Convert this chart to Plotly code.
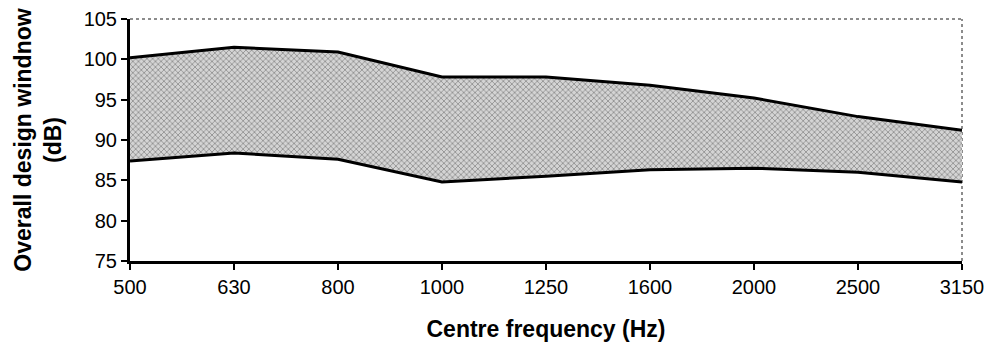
import plotly.graph_objects as go

# Centre frequencies (Hz) of the third-octave bands
frequencies = ["500", "630", "800", "1000", "1250", "1600", "2000", "2500", "3150"]
# Upper and lower limits of the overall design window (dB)
upper_db = [100.2, 101.5, 100.9, 97.8, 97.8, 96.8, 95.2, 92.9, 91.2]
lower_db = [87.4, 88.4, 87.6, 84.8, 85.5, 86.3, 86.5, 86.0, 84.8]

y_ticks = [75, 80, 85, 90, 95, 100, 105]

fig = go.Figure()

# Lower limit (baseline of the shaded window)
fig.add_trace(go.Scatter(
    x=frequencies, y=lower_db, mode="lines",
    line=dict(color="black", width=3),
    showlegend=False, hoverinfo="skip",
))
# Upper limit, shaded down to the lower limit
fig.add_trace(go.Scatter(
    x=frequencies, y=upper_db, mode="lines",
    line=dict(color="black", width=3),
    fill="tonexty",
    fillcolor="#bdbdbd",
    fillpattern=dict(shape="x", size=4, solidity=0.3,
                     fgcolor="#7a7a7a", bgcolor="#d4d4d4", fillmode="replace"),
    showlegend=False, hoverinfo="skip",
))

font_family = "Liberation Sans, Arial, sans-serif"

fig.update_layout(
    width=989, height=345,
    margin=dict(l=130, r=27, t=19, b=84),
    paper_bgcolor="white", plot_bgcolor="white",
    font=dict(family=font_family, color="black", size=20),
    xaxis=dict(
        type="category", range=[0, 8], automargin=False,
        showgrid=False, zeroline=False,
        showline=True, linecolor="black", linewidth=3,
        ticks="outside", ticklen=6, tickwidth=2, tickcolor="black",
        tickfont=dict(size=20),
        title=dict(text="<b>Centre frequency (Hz)</b>",
                   font=dict(size=23), standoff=24),
    ),
    yaxis=dict(
        range=[75, 105], tickvals=y_ticks, automargin=False,
        showgrid=False, zeroline=False,
        showline=True, linecolor="black", linewidth=3,
        ticks="outside", ticklen=6, tickwidth=2, tickcolor="black",
        tickfont=dict(size=20),
        title=dict(text="<b>Overall design windnow<br>(dB)</b>",
                   font=dict(size=23), standoff=16),
    ),
    shapes=[
        # light frame on the top and right of the plot area
        dict(type="line", xref="paper", yref="paper", x0=0, x1=1, y0=1, y1=1,
             line=dict(color="#8c8c8c", width=2, dash="dot"), layer="below"),
        dict(type="line", xref="paper", yref="paper", x0=1, x1=1, y0=0, y1=1,
             line=dict(color="#8c8c8c", width=2, dash="dot"), layer="below"),
    ],
)

fig.write_html("out.html")
